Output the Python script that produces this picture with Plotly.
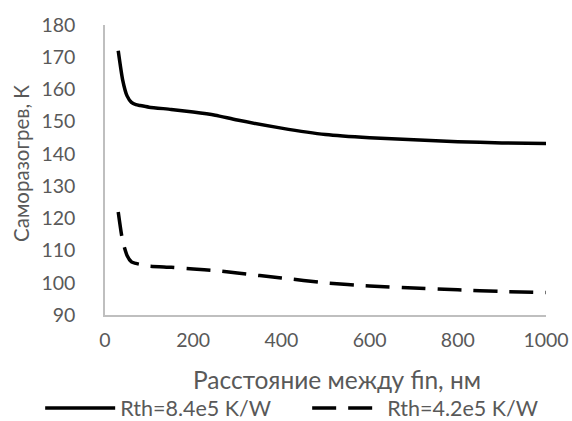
import plotly.graph_objects as go

x_nm = [30, 40, 50, 60, 70, 80, 100, 150, 200, 250, 300, 400, 500, 600, 700, 800, 900, 1000]
rth_84 = [172, 163, 158, 156, 155.3, 155, 154.5, 153.8, 153, 152, 150.5, 148, 146, 145, 144.4, 143.8, 143.4, 143.2]
rth_42 = [122, 113, 108.5, 106.5, 106, 105.7, 105.2, 104.8, 104.3, 103.8, 103, 101.5, 100, 99, 98.4, 97.8, 97.3, 97]
names = ["Rth=8.4e5 K/W", "Rth=4.2e5 K/W"]
x_title = "Расстояние между fin, нм"
y_title = "Саморазогрев, К"

font_fam = "Lato, Open Sans, sans-serif"
gray = "#595959"
tick_size = 19.5
legend_size = 21.5

fig = go.Figure()
fig.add_trace(go.Scatter(x=x_nm, y=rth_84, mode="lines", name=names[0],
                         line=dict(color="black", width=3.5, shape="spline", smoothing=0.6)))
fig.add_trace(go.Scatter(x=x_nm, y=rth_42, mode="lines", name=names[1],
                         line=dict(color="black", width=3.5, dash="24px,12px", shape="spline", smoothing=0.6)))

fig.update_layout(
    width=572, height=421,
    margin=dict(l=105, r=26, t=25, b=106, autoexpand=False),
    paper_bgcolor="white", plot_bgcolor="white",
    font=dict(family=font_fam, size=tick_size, color=gray),
    showlegend=True,
    legend=dict(orientation="h", x=-0.147, xanchor="left", xref="paper",
                y=-0.321, yanchor="middle", font=dict(size=legend_size, color=gray),
                itemwidth=70, entrywidth=182, traceorder="normal"),
    xaxis=dict(range=[0, 1000], tickvals=[0, 200, 400, 600, 800, 1000],
               showgrid=False, zeroline=False, showline=True, linecolor="#bfbfbf", linewidth=1.5,
               ticks="", ticklabelstandoff=7, automargin=False),
    yaxis=dict(range=[90, 180], dtick=10,
               showgrid=False, zeroline=False, showline=True, linecolor="#bfbfbf", linewidth=1.5,
               ticks="", ticklabelstandoff=24, automargin=False),
    annotations=[
        dict(text=x_title, xref="paper", yref="paper", x=(337 - 105) / 441, y=(315 - 380) / 290,
             xanchor="center", yanchor="middle", showarrow=False, font=dict(size=24.5, color=gray)),
        dict(text=y_title, xref="paper", yref="paper", x=(21 - 105) / 441, y=(315 - 164) / 290,
             xanchor="center", yanchor="middle", textangle=-90, showarrow=False,
             font=dict(size=20.5, color=gray)),
    ],
)

fig.write_html("out.html", config={"displayModeBar": False},
               post_script="document.body.style.margin='0';")
